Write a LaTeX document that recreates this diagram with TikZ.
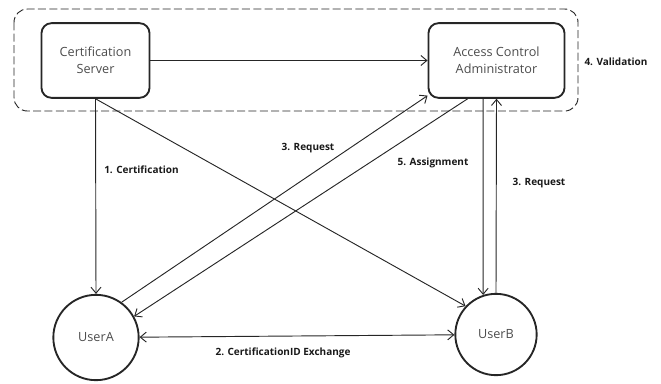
\documentclass[tikz,border=0pt]{standalone}
\usepackage{fontspec}
\setmainfont{Open Sans}
\usetikzlibrary{arrows.meta,positioning,calc}

\begin{document}
\begin{tikzpicture}[x=0.75pt,y=-0.75pt,>={Straight Barb[length=4.5pt,width=7.5pt]},
  box/.style={draw=black!85,line width=1.4pt,rounded corners=7.5pt,align=center,text=black!70,
    font=\fontsize{9.5}{12.75}\selectfont},
  user/.style={draw=black!85,circle,line width=1.4pt,text=black!70,font=\fontsize{9.5}{12}\selectfont},
  lbl/.style={font=\fontsize{7.5}{9}\selectfont\bfseries,text=black!90},
  conn/.style={draw=black!85,line width=0.7pt}]
\useasboundingbox (0,0) rectangle (661,383);
% trusted side
\draw[black!85,line width=0.7pt,dash pattern=on 6pt off 2.5pt,rounded corners=10pt] (14,9) rectangle (578,111);
\node[box,minimum width=81pt,minimum height=56pt] (cs) at (95.5,60.5) {Certification\\Server};
\node[box,minimum width=102pt,minimum height=56pt] (aca) at (496.5,60.5) {Access Control\\Administrator};
% users
\node[user,minimum size=64pt] (ua) at (96,337.5) {UserA};
\node[user,minimum size=61pt] (ub) at (496,334.5) {UserB};
% messages
\draw[conn,->] (cs) -- (aca);
\draw[conn,->] (cs.south) -- (ua.north);
\draw[conn,->] (cs.south) -- (ub.137);
\draw[conn,->] (ua.54) -- (aca.207);
\draw[conn,->] (aca.233) -- (ua.29);
\draw[conn,->] ([xshift=-10pt]aca.south) -- (ub.108);
\draw[conn,->] (ub.north) -- (aca.south);
\draw[conn,<->] (ua) -- (ub);
\node[lbl] (l1) at (141.5,170) {1. Certification};
\node[lbl] (l2) at (283,353) {2. CertificationID Exchange};
\node[lbl] (l3a) at (308,148) {3. Request};
\node[lbl] (l3b) at (539,183) {3. Request};
\node[lbl] (l4) at (616,62) {4. Validation};
\node[lbl] (l5) at (433,163) {5. Assignment};
\end{tikzpicture}
\end{document}
